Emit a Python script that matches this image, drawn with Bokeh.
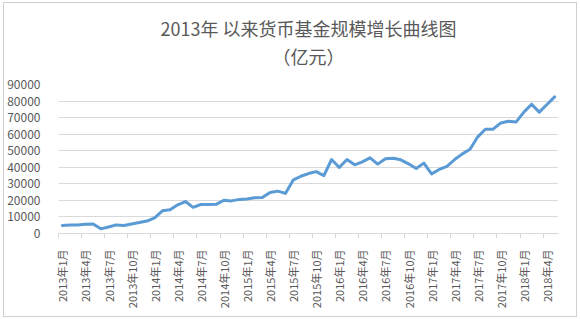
import math
from bokeh.plotting import figure
from bokeh.models import (ColumnDataSource, FixedTicker, Range1d, Title,
                          InlineStyleSheet, NumeralTickFormatter)
from bokeh.embed import file_html
from bokeh.resources import INLINE

title_text = "2013年 以来货币基金规模增长曲线图"
subtitle_text = "（亿元）"

# monthly fund size (亿元), 2013年1月 .. 2018年5月
values = [4900, 5100, 5200, 5600, 5800, 2800, 3900, 5200, 4800, 5700,
          6600, 7500, 9500, 13700, 14300, 17300, 19300, 15800, 17500, 17500,
          17600, 20100, 19700, 20600, 20800, 21600, 21700, 24800, 25600, 24200,
          32200, 34600, 36200, 37400, 35000, 44700, 39900, 44700, 41500, 43300,
          45700, 41900, 45100, 45500, 44500, 42100, 39300, 42500, 36000, 38700,
          40500, 44700, 48100, 50900, 58400, 63000, 63000, 66800, 67800, 67400,
          73300, 78100, 73300, 77900, 82500]

tick_labels = ["2013年1月", "2013年4月", "2013年7月", "2013年10月",
               "2014年1月", "2014年4月", "2014年7月", "2014年10月",
               "2015年1月", "2015年4月", "2015年7月", "2015年10月",
               "2016年1月", "2016年4月", "2016年7月", "2016年10月",
               "2017年1月", "2017年4月", "2017年7月", "2017年10月",
               "2018年1月", "2018年4月"]

y_ticks = [0, 10000, 20000, 30000, 40000, 50000, 60000, 70000, 80000, 90000]

idx = list(range(len(values)))
src = ColumnDataSource(dict(x=idx, y=values))

FONT = "Noto Sans CJK SC"
GREY = "#595959"

p = figure(width=580, height=319, output_backend="svg", toolbar_location=None,
           x_range=Range1d(-0.5, len(values) - 0.5), y_range=Range1d(0, 90000),
           min_border_left=58, min_border_right=22, min_border_top=84,
           min_border_bottom=86)
p.title.text = ""
p.title.visible = False

# spacer between the plot area and the subtitle
p.add_layout(Title(text=" ", align="center", text_font=FONT,
                   text_font_size="8px", standoff=3), "above")
p.add_layout(Title(text=subtitle_text, align="center", text_font=FONT,
                   text_font_size="18px", text_color=GREY,
                   text_font_style="normal", standoff=0), "above")
p.add_layout(Title(text=title_text, align="center", text_font=FONT,
                   text_font_size="18px", text_color=GREY,
                   text_font_style="normal", standoff=0), "above")

p.line("x", "y", source=src, line_color="#5b9bd5", line_width=3,
       line_join="round", line_cap="round")

p.outline_line_color = None
p.background_fill_color = "white"
p.border_fill_color = "white"

# x axis
label_pos = [i * 3 for i in range(len(tick_labels))]
boundaries = [i * 3 - 0.5 for i in range(len(tick_labels))]
p.xaxis.ticker = FixedTicker(ticks=label_pos, minor_ticks=boundaries)
p.xaxis.major_label_overrides = {pos: lab for pos, lab in zip(label_pos, tick_labels)}
p.xaxis.major_label_orientation = math.pi / 2
p.xaxis.major_tick_out = 0
p.xaxis.major_tick_in = 0
p.xaxis.minor_tick_out = 5
p.xaxis.minor_tick_in = 0
p.xaxis.minor_tick_line_color = "#d9d9d9"
p.xaxis.axis_line_color = "#d9d9d9"
p.xaxis.major_label_text_font = FONT
p.xaxis.major_label_text_font_size = "11px"
p.xaxis.major_label_text_color = GREY
p.xaxis.major_label_standoff = 11
p.xgrid.grid_line_color = None

# y axis
p.yaxis.ticker = FixedTicker(ticks=y_ticks)
p.yaxis.formatter = NumeralTickFormatter(format="0")
p.yaxis.axis_line_color = None
p.yaxis.major_tick_line_color = None
p.yaxis.minor_tick_line_color = None
p.yaxis.major_label_text_font = FONT
p.yaxis.major_label_text_font_size = "12px"
p.yaxis.major_label_text_color = GREY
p.yaxis.major_label_standoff = 12
p.ygrid.grid_line_color = "#d9d9d9"
p.ygrid.grid_line_width = 1

p.stylesheets = [InlineStyleSheet(css=(
    ":host { position: relative; }"
    ":host::after { content: ''; position: absolute; left: 3px; top: 2px; "
    "right: 3px; bottom: 2px; border: 1px solid #d0d0d0; "
    "pointer-events: none; z-index: 100; }"))]

open("out.html", "w").write(file_html(p, INLINE))
